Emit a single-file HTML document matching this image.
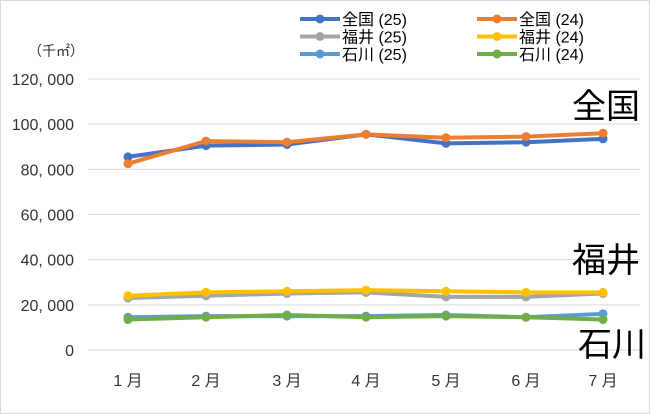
<!DOCTYPE html>
<html><head><meta charset="utf-8"><style>
html,body{margin:0;padding:0;background:#fff}
svg{display:block;font-family:"Liberation Sans","Noto Sans CJK JP",sans-serif}
</style></head><body>
<svg id="c" width="650" height="414" xmlns="http://www.w3.org/2000/svg">
<rect x="0.5" y="0.5" width="649" height="413" fill="#fff" stroke="#d9d9d9"/>
<g id="grid"></g>
<g id="ser"></g>
<text x="28" y="56" font-size="14" fill="#333">（千㎡）</text>
<g font-size="16" fill="#333" text-anchor="end" id="ylab"></g>
<g font-size="16" fill="#333" text-anchor="middle" id="xlab"></g>
<g font-size="16" fill="#000" id="leg"></g>
<text x="572" y="118" font-size="34" fill="#000">全国</text>
<text x="572" y="272" font-size="34" fill="#000">福井</text>
<text x="578" y="356" font-size="34" fill="#000">石川</text>
</svg>
<script>
const NS="http://www.w3.org/2000/svg";
function el(p,t,a,txt){const e=document.createElementNS(NS,t);for(const k in a)e.setAttribute(k,a[k]);if(txt!==undefined)e.textContent=txt;document.getElementById(p).appendChild(e);return e;}
const Y=v=>350-v*271/120000;
const xs=[128,206,287,366,446,526,603];
for(let i=0;i<=6;i++){const v=i*20000,y=Y(v);
 el('grid','line',{x1:88,x2:640,y1:y,y2:y,stroke:'#d9d9d9','stroke-width':1});
 el('ylab','text',{x:74,y:y+6},v==0?'0':(v/1000)+', 000');}
xs.forEach((x,i)=>el('xlab','text',{x:x,y:386},(i+1)+' 月'));
const S=[
['全国(25)','#4472c4',[85500,90500,91000,95500,91500,92000,93500]],
['全国(24)','#ed7d31',[82500,92500,92000,95500,94000,94500,96000]],
['福井(25)','#a5a5a5',[23000,24000,25000,25500,23500,23500,25000]],
['福井(24)','#ffc000',[24000,25500,26000,26500,26000,25500,25500]],
['石川(25)','#5b9bd5',[14500,15000,15000,15000,15500,14500,16000]],
['石川(24)','#70ad47',[13500,14500,15500,14500,15000,14500,13500]]];
S.forEach((s,k)=>{
 el('ser','polyline',{points:s[2].map((v,i)=>xs[i]+','+Y(v)).join(' '),fill:'none',stroke:s[1],'stroke-width':4,'stroke-linejoin':'round'});
 s[2].forEach((v,i)=>el('ser','circle',{cx:xs[i],cy:Y(v),r:4.5,fill:s[1]}));
 const lx=k%2?477:300, ly=19+Math.floor(k/2)*17.5;
 el('leg','line',{x1:lx,x2:lx+40,y1:ly,y2:ly,stroke:s[1],'stroke-width':4});
 el('leg','circle',{cx:lx+20,cy:ly,r:4.5,fill:s[1]});
 el('leg','text',{x:lx+42,y:ly+6},s[0].replace('(',' ('));
});
</script>
</body></html>
